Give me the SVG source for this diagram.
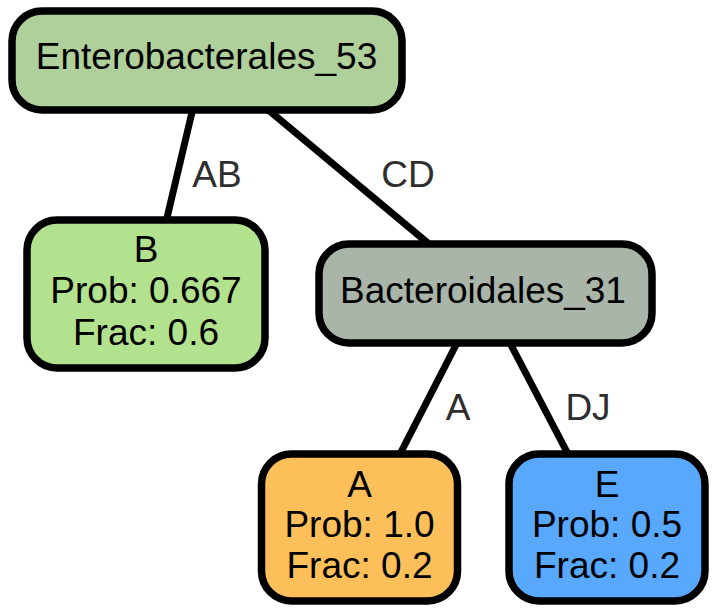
<svg xmlns="http://www.w3.org/2000/svg" width="717" height="613" viewBox="0 0 717 613">
<style>
.node rect{stroke:#000;stroke-width:7.5}
.node text{font-family:"Liberation Sans",Arial,sans-serif;font-size:37px;fill:#000;text-anchor:middle}
.edges line{stroke:#000;stroke-width:7}
.edges text{font-family:"Liberation Sans",Arial,sans-serif;font-size:37px;fill:#2e2e2e;text-anchor:middle}
</style>
<rect width="717" height="613" fill="#fff"/>
<g class="edges" id="edges">
<line x1="193" y1="108" x2="166" y2="222"/>
<line x1="266" y1="108" x2="429" y2="244"/>
<line x1="457" y1="343" x2="400" y2="454"/>
<line x1="510" y1="343" x2="568" y2="454"/>
<text x="217" y="187">AB</text>
<text x="408" y="187">CD</text>
<text x="458" y="420">A</text>
<text x="588" y="420">DJ</text>
</g>
<g class="node" id="n_entero">
<rect x="12" y="11" width="390" height="99" rx="30" fill="#b0d09b"/>
<text x="206.5" y="69">Enterobacterales_53</text>
</g>
<g class="node" id="n_B">
<rect x="27" y="220" width="238" height="148" rx="30" fill="#b2e28e"/>
<text x="146" y="262">B</text>
<text x="146" y="303">Prob: 0.667</text>
<text x="146" y="345">Frac: 0.6</text>
</g>
<g class="node" id="n_bact">
<rect x="319" y="244" width="333" height="99" rx="30" fill="#aab5aa"/>
<text x="483" y="303">Bacteroidales_31</text>
</g>
<g class="node" id="n_A">
<rect x="261.5" y="454" width="196" height="147" rx="30" fill="#fdbf5a"/>
<text x="359.5" y="497">A</text>
<text x="359.5" y="537">Prob: 1.0</text>
<text x="359.5" y="578">Frac: 0.2</text>
</g>
<g class="node" id="n_E">
<rect x="509" y="454" width="196" height="147" rx="30" fill="#58a8fe"/>
<text x="607" y="497">E</text>
<text x="607" y="537">Prob: 0.5</text>
<text x="607" y="578">Frac: 0.2</text>
</g>
</svg>
